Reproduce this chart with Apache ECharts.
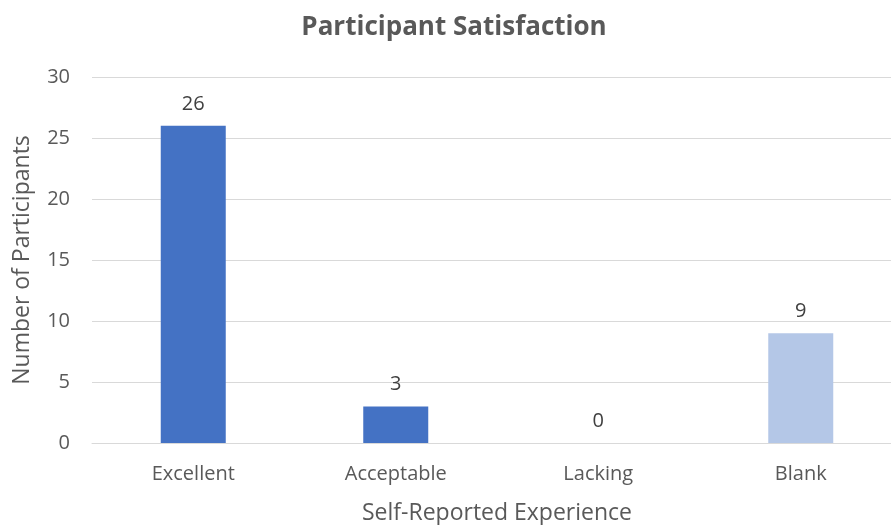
<!DOCTYPE html>
<html>
<head>
<meta charset="utf-8">
<script src="https://cdn.jsdelivr.net/npm/echarts@6/dist/echarts.min.js"></script>
<style>
  html, body { margin: 0; padding: 0; background: #fff; overflow: hidden; }
  #chart { width: 902px; height: 525px; }
</style>
</head>
<body>
<div id="chart"></div>
<script>
const categories = ['Excellent', 'Acceptable', 'Lacking', 'Blank'];
const participants = [26, 3, 0, 9];
const barColors = ['#4472C4', '#4472C4', '#4472C4', '#B4C7E7'];

// the plot runs a little past the right edge of the window, as in the original
const chart = echarts.init(document.getElementById('chart'));
const textColor = '#595959';
const font = '"Open Sans", "Liberation Sans", sans-serif';

const option = {
  backgroundColor: '#fff',
  title: {
    text: 'Participant Satisfaction',
    left: 449,
    textAlign: 'center',
    top: 10,
    textStyle: { color: textColor, fontSize: 26, fontWeight: 'bold', fontFamily: font }
  },
  grid: {
    left: 92, top: 77, width: 810, height: 366,
    containLabel: false,
    outerBoundsMode: 'none'
  },
  xAxis: {
    type: 'category',
    data: categories,
    name: 'Self-Reported Experience',
    nameLocation: 'middle',
    nameGap: 59,
    nameTextStyle: { color: textColor, fontSize: 23, fontFamily: font },
    axisLine: { lineStyle: { color: '#d9d9d9', width: 1 } },
    axisTick: { show: false },
    axisLabel: { color: textColor, fontSize: 20, fontFamily: font, margin: 21 }
  },
  yAxis: {
    type: 'value',
    min: 0,
    max: 30,
    interval: 5,
    name: 'Number of Participants',
    nameLocation: 'middle',
    nameGap: 58,
    nameTextStyle: { color: textColor, fontSize: 23, fontFamily: font },
    axisLine: { show: false },
    axisTick: { show: false },
    axisLabel: { color: textColor, fontSize: 20, fontFamily: font, margin: 22 },
    splitLine: { lineStyle: { color: '#d9d9d9', width: 1 } }
  },
  series: [
    {
      type: 'bar',
      barWidth: 65,
      data: participants.map((v, i) => ({ value: v, itemStyle: { color: barColors[i] } })),
      label: {
        show: true,
        position: 'top',
        distance: 12,
        color: '#404040',
        fontSize: 20,
        fontFamily: font
      }
    }
  ]
};

chart.setOption(option);
</script>
</body>
</html>
